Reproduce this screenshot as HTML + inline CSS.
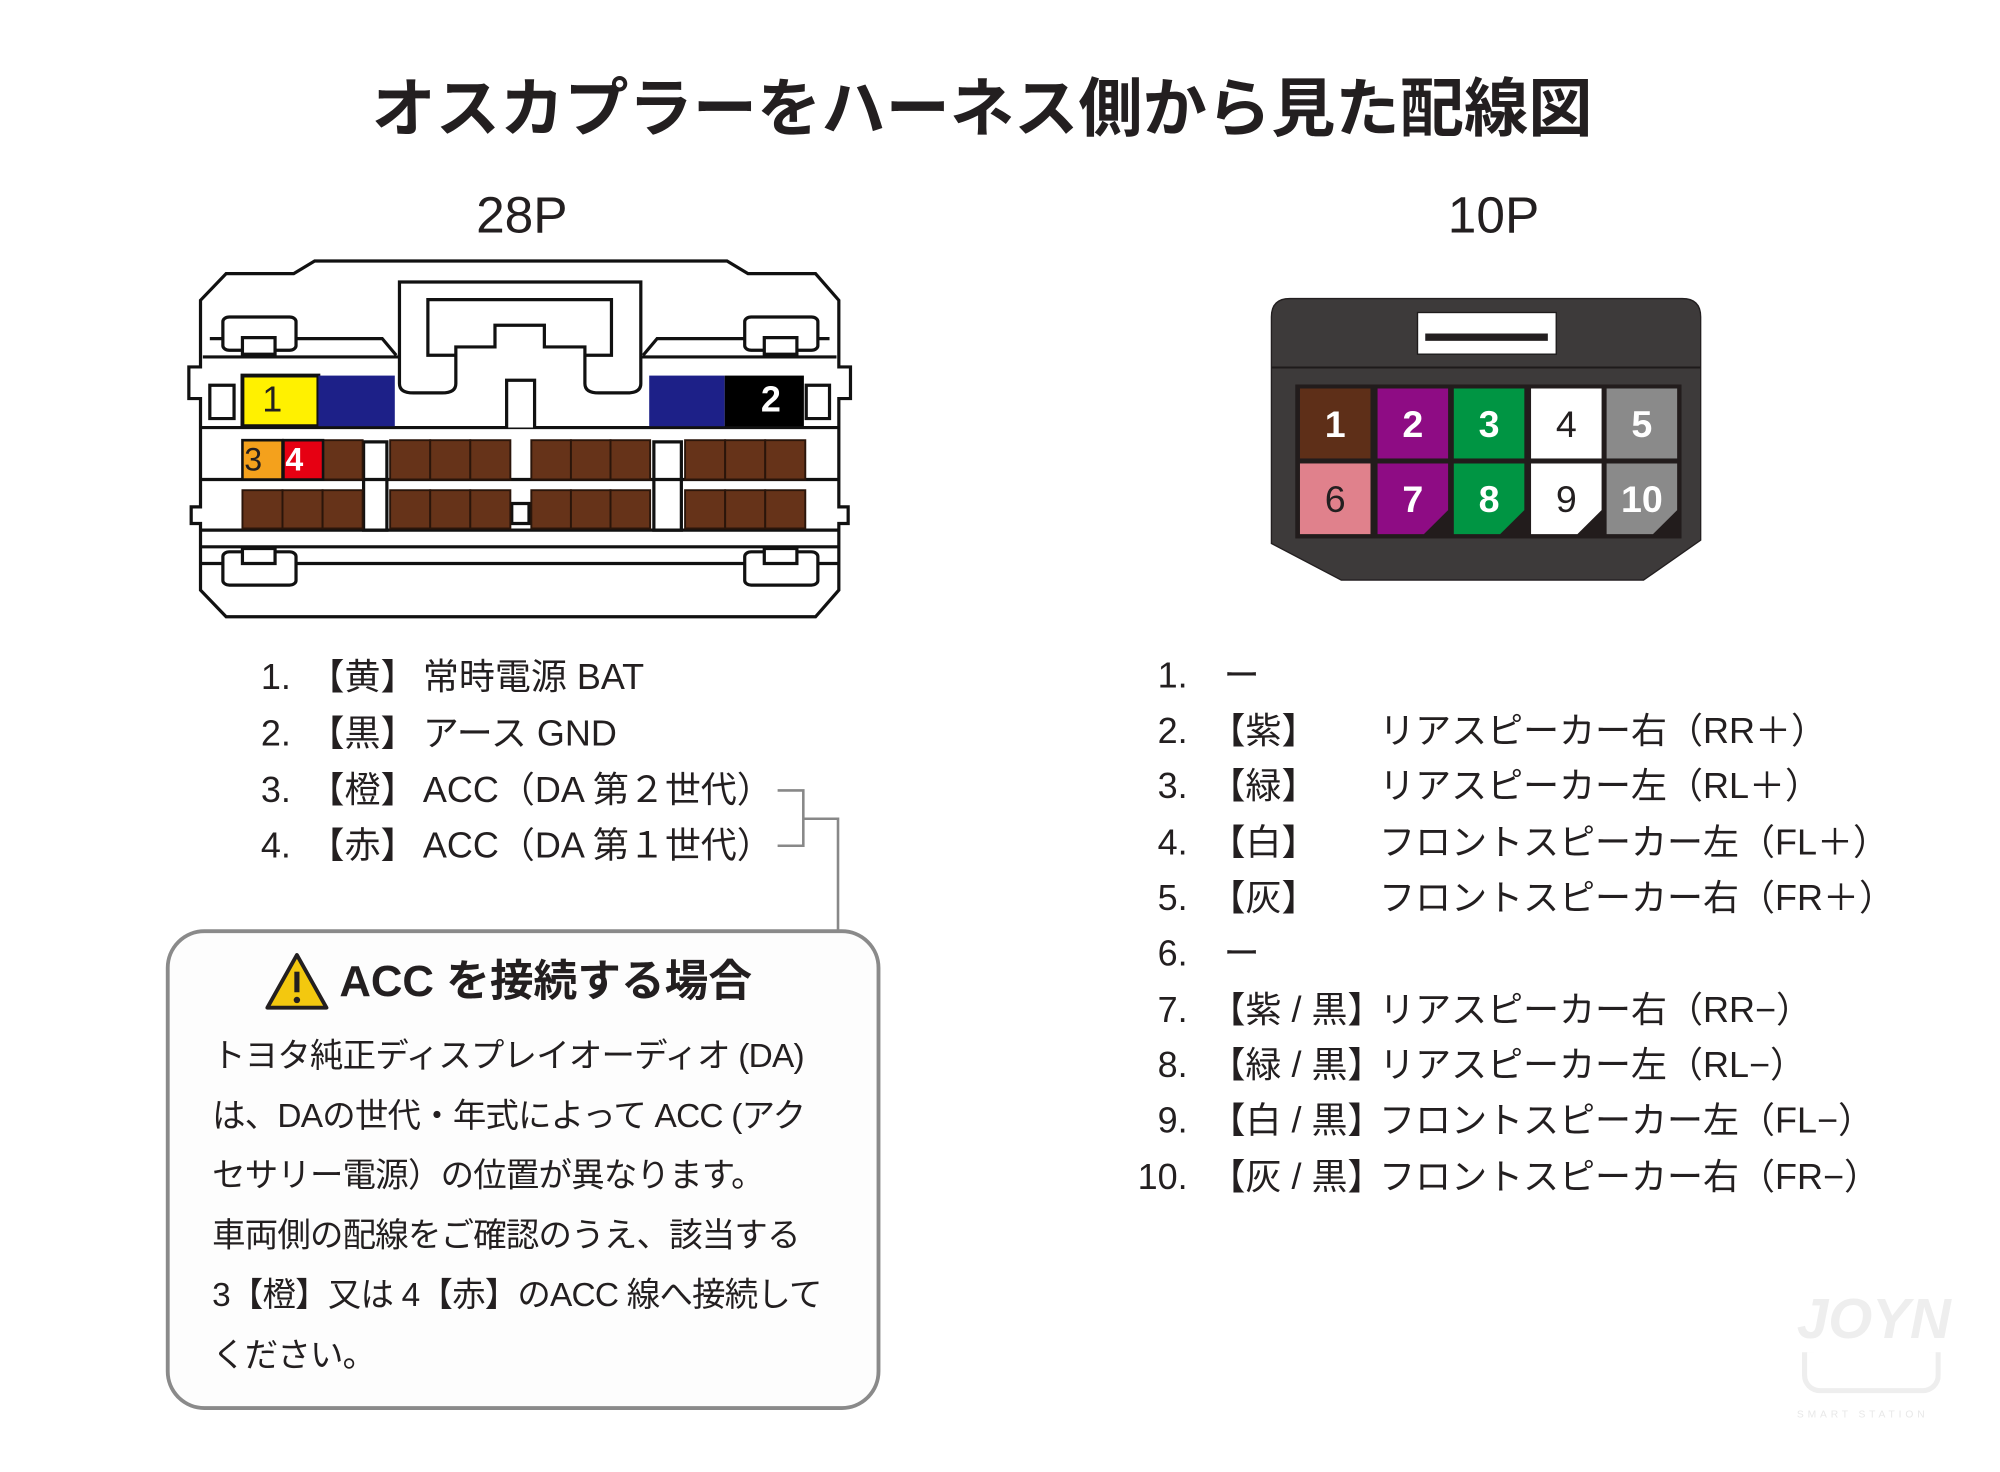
<!DOCTYPE html>
<html><head><meta charset="utf-8"><style>
html,body{margin:0;padding:0;background:#fff;}
body{width:2000px;height:1472px;overflow:hidden;position:relative;}
#w{position:absolute;left:0;top:0;width:1556px;height:1145px;transform:scale(1.2853);transform-origin:0 0;font-family:"Liberation Sans","Noto Sans CJK JP",sans-serif;color:#231f20;}
.t{position:absolute;white-space:nowrap;line-height:1;}
.n{position:absolute;white-space:nowrap;line-height:1;font-size:28px;}
</style></head><body><div id="w">
<div class="t" style="left:0;width:1528px;text-align:center;top:60px;font-size:50px;font-weight:bold;">オスカプラーをハーネス側から見た配線図</div>
<div class="t" style="left:306px;width:200px;text-align:center;top:148px;font-size:40px;">28P</div>
<div class="t" style="left:1062px;width:200px;text-align:center;top:148px;font-size:40px;">10P</div>

<svg style="position:absolute;left:127.1px;top:186.7px;" width="561.9" height="311" viewBox="0 0 1550 1200" preserveAspectRatio="none">
<g stroke="#111" stroke-width="2.5" fill="none">
<path vector-effect="non-scaling-stroke" fill="#fff" d="M80,180 L135,100 L280,100 L325,62 L1210,62 L1255,100 L1400,100 L1450,180 L1450,380 L1475,380 L1475,475 L1450,475 L1450,800 L1470,800 L1470,850 L1450,850 L1450,1050 L1400,1130 L135,1130 L80,1050 L80,850 L60,850 L60,800 L80,800 L80,475 L55,475 L55,380 L80,380 Z"/>
<path vector-effect="non-scaling-stroke" d="M100,295 L470,295 L500,345 M1030,345 L1060,295 L1430,295 M85,350 L507,350 M1025,350 L1445,350"/>
<path vector-effect="non-scaling-stroke" d="M80,562 L1450,562 M80,718 L1450,718 M80,870 L1450,870 M80,920 L1450,920 M80,970 L1450,970"/>
<path vector-effect="non-scaling-stroke" fill="#fff" d="M507,350 L507,125 L1025,125 L1025,430 Q1025,458 995,458 L935,458 Q905,458 905,430 L905,320 L818,320 L818,255 L712,255 L712,320 L628,320 L628,430 Q628,458 598,458 L537,458 Q507,458 507,430 Z"/>
<path vector-effect="non-scaling-stroke" d="M568,320 L568,178 L962,178 L962,345 L905,345 M628,345 L568,345 L568,320"/>
<path vector-effect="non-scaling-stroke" fill="#fff" d="M737,562 L737,420 L797,420 L797,562"/>
<rect vector-effect="non-scaling-stroke" x="128" y="230" width="157" height="100" rx="14" fill="#fff"/>
<rect vector-effect="non-scaling-stroke" x="170" y="292" width="70" height="50" fill="#fff"/>
<rect vector-effect="non-scaling-stroke" x="1248" y="230" width="157" height="100" rx="14" fill="#fff"/>
<rect vector-effect="non-scaling-stroke" x="1290" y="292" width="70" height="50" fill="#fff"/>
<rect vector-effect="non-scaling-stroke" x="128" y="935" width="157" height="100" rx="14" fill="#fff"/>
<rect vector-effect="non-scaling-stroke" x="170" y="925" width="70" height="45" fill="#fff"/>
<rect vector-effect="non-scaling-stroke" x="1248" y="935" width="157" height="100" rx="14" fill="#fff"/>
<rect vector-effect="non-scaling-stroke" x="1290" y="925" width="70" height="45" fill="#fff"/>
<rect vector-effect="non-scaling-stroke" x="100" y="435" width="52" height="100"/>
<rect vector-effect="non-scaling-stroke" x="1380" y="435" width="50" height="100"/>
<rect vector-effect="non-scaling-stroke" x="430" y="605" width="50" height="265"/>
<rect vector-effect="non-scaling-stroke" x="1053" y="605" width="59" height="265"/>
<rect vector-effect="non-scaling-stroke" x="748" y="790" width="37" height="60"/>
</g>
<rect x="170" y="406" width="163" height="152" fill="#fff100" stroke="#111" stroke-width="3" vector-effect="non-scaling-stroke"/>
<rect x="333" y="406" width="164" height="152" fill="#1d2088"/>
<rect x="1043" y="406" width="162" height="152" fill="#1d2088"/>
<rect x="1205" y="406" width="170" height="152" fill="#000"/>
<g fill="#663319" stroke="#2a150a" stroke-width="1.5">
<rect vector-effect="non-scaling-stroke" x="343" y="600" width="85" height="118"/>
<rect vector-effect="non-scaling-stroke" x="487" y="600" width="86" height="118"/><rect vector-effect="non-scaling-stroke" x="573" y="600" width="86" height="118"/><rect vector-effect="non-scaling-stroke" x="659" y="600" width="86" height="118"/>
<rect vector-effect="non-scaling-stroke" x="790" y="600" width="85" height="118"/><rect vector-effect="non-scaling-stroke" x="875" y="600" width="85" height="118"/><rect vector-effect="non-scaling-stroke" x="960" y="600" width="85" height="118"/>
<rect vector-effect="non-scaling-stroke" x="1120" y="600" width="86" height="118"/><rect vector-effect="non-scaling-stroke" x="1206" y="600" width="86" height="118"/><rect vector-effect="non-scaling-stroke" x="1292" y="600" width="86" height="118"/>
<rect vector-effect="non-scaling-stroke" x="170" y="750" width="86" height="115"/><rect vector-effect="non-scaling-stroke" x="256" y="750" width="86" height="115"/><rect vector-effect="non-scaling-stroke" x="342" y="750" width="86" height="115"/>
<rect vector-effect="non-scaling-stroke" x="487" y="750" width="86" height="115"/><rect vector-effect="non-scaling-stroke" x="573" y="750" width="86" height="115"/><rect vector-effect="non-scaling-stroke" x="659" y="750" width="86" height="115"/>
<rect vector-effect="non-scaling-stroke" x="790" y="750" width="85" height="115"/><rect vector-effect="non-scaling-stroke" x="875" y="750" width="85" height="115"/><rect vector-effect="non-scaling-stroke" x="960" y="750" width="85" height="115"/>
<rect vector-effect="non-scaling-stroke" x="1120" y="750" width="86" height="115"/><rect vector-effect="non-scaling-stroke" x="1206" y="750" width="86" height="115"/><rect vector-effect="non-scaling-stroke" x="1292" y="750" width="86" height="115"/>
</g>
<rect x="170" y="600" width="86" height="118" fill="#f4a11c" stroke="#111" stroke-width="2" vector-effect="non-scaling-stroke"/>
<rect x="258" y="600" width="85" height="118" fill="#e60012" stroke="#111" stroke-width="2" vector-effect="non-scaling-stroke"/>
</svg>
<div class="n" style="left:204px;top:297px;">1</div>
<div class="n" style="left:592px;top:297px;color:#fff;font-weight:bold;">2</div>
<div class="n" style="left:190px;top:346px;font-size:25px;">3</div>
<div class="n" style="left:222px;top:346px;font-size:25px;color:#fff;font-weight:bold;">4</div>

<svg style="position:absolute;left:972.8px;top:217.7px;" width="376.3" height="248.9" viewBox="0 0 1440 960" preserveAspectRatio="none">
<path d="M62,110 Q62,55 117,55 L1285,55 Q1340,55 1340,110 L1340,780 L1170,900 L270,900 L62,790 Z" fill="#3d3a3a" stroke="#231f20" stroke-width="4"/>
<line x1="62" y1="262" x2="1340" y2="262" stroke="#1e1b1b" stroke-width="6"/>
<rect x="497" y="97" width="413" height="125" fill="#fff" stroke="#1e1b1b" stroke-width="4"/>
<rect x="520" y="160" width="365" height="22" fill="#231f20"/>
<rect x="133" y="313" width="1150" height="462" fill="#221c1c"/>
<rect x="147" y="325" width="210" height="210" fill="#5e2f18"/>
<rect x="378" y="325" width="210" height="210" fill="#8e0c84"/>
<rect x="605" y="325" width="210" height="210" fill="#009543"/>
<rect x="835" y="325" width="210" height="210" fill="#fff"/>
<rect x="1060" y="325" width="210" height="210" fill="#8a8a8a"/>
<rect x="147" y="550" width="210" height="212" fill="#e0818c"/>
<path d="M378,550 H588 V690 L516,762 H378 Z" fill="#8e0c84"/>
<path d="M605,550 H815 V690 L743,762 H605 Z" fill="#009543"/>
<path d="M835,550 H1045 V690 L973,762 H835 Z" fill="#fff"/>
<path d="M1060,550 H1270 V690 L1198,762 H1060 Z" fill="#8a8a8a"/>
<g font-family="Liberation Sans, sans-serif" font-size="112" text-anchor="middle" font-weight="bold">
<text x="252" y="470" fill="#fff">1</text><text x="483" y="470" fill="#fff">2</text><text x="710" y="470" fill="#fff">3</text><text x="940" y="470" fill="#231f20" font-weight="normal">4</text><text x="1165" y="470" fill="#fff">5</text>
<text x="252" y="695" fill="#231f20" font-weight="normal">6</text><text x="483" y="695" fill="#fff">7</text><text x="710" y="695" fill="#fff">8</text><text x="940" y="695" fill="#231f20" font-weight="normal">9</text><text x="1165" y="695" fill="#fff">10</text>
</g>
</svg>

<div style="font-size:28px;">
<div class="t" style="left:203px;top:513px;">1.</div><div class="t" style="left:240px;top:513px;">【黄】</div><div class="t" style="left:329px;top:513px;">常時電源 BAT</div>
<div class="t" style="left:203px;top:557px;">2.</div><div class="t" style="left:240px;top:557px;">【黒】</div><div class="t" style="left:329px;top:557px;">アース GND</div>
<div class="t" style="left:203px;top:601px;">3.</div><div class="t" style="left:240px;top:601px;">【橙】</div><div class="t" style="left:329px;top:601px;">ACC（DA 第２世代）</div>
<div class="t" style="left:203px;top:644px;">4.</div><div class="t" style="left:240px;top:644px;">【赤】</div><div class="t" style="left:329px;top:644px;">ACC（DA 第１世代）</div>
</div>
<svg style="position:absolute;left:600px;top:605px;" width="60" height="125"><path d="M5,10 H25 V53 H5 M25,32 H52 V120" fill="none" stroke="#888" stroke-width="2"/></svg>

<div style="position:absolute;left:129px;top:723px;width:550px;height:368px;border:3px solid #8a8a8a;border-radius:30px;background:#fdfdfd;"></div>
<svg style="position:absolute;left:205px;top:740px;" width="52" height="48" viewBox="0 0 52 48"><path d="M26,3 L49,44 L3,44 Z" fill="#f3c80f" stroke="#231f20" stroke-width="3" stroke-linejoin="round"/><rect x="24" y="16" width="4" height="16" fill="#231f20"/><circle cx="26" cy="38" r="2.5" fill="#231f20"/></svg>
<div class="t" style="left:264px;top:747px;font-size:34px;font-weight:bold;">ACC を接続する場合</div>
<div style="font-size:26px;letter-spacing:-0.6px;">
<div class="t" style="left:165px;top:808px;">トヨタ純正ディスプレイオーディオ (DA)</div>
<div class="t" style="left:165px;top:855px;">は、DAの世代・年式によって ACC (アク</div>
<div class="t" style="left:165px;top:901px;">セサリー電源）の位置が異なります。</div>
<div class="t" style="left:165px;top:948px;">車両側の配線をご確認のうえ、該当する</div>
<div class="t" style="left:165px;top:994px;">3【橙】又は 4【赤】のACC 線へ接続して</div>
<div class="t" style="left:165px;top:1041px;">ください。</div>
</div>

<div style="font-size:28px;">
<div class="t" style="left:872px;width:52px;text-align:right;top:512px;">1.</div><div class="t" style="left:952px;top:512px;">ー</div>
<div class="t" style="left:872px;width:52px;text-align:right;top:555px;">2.</div><div class="t" style="left:941px;top:555px;">【紫】</div><div class="t" style="left:1073px;top:555px;">リアスピーカー右（RR＋）</div>
<div class="t" style="left:872px;width:52px;text-align:right;top:598px;">3.</div><div class="t" style="left:941px;top:598px;">【緑】</div><div class="t" style="left:1073px;top:598px;">リアスピーカー左（RL＋）</div>
<div class="t" style="left:872px;width:52px;text-align:right;top:642px;">4.</div><div class="t" style="left:941px;top:642px;">【白】</div><div class="t" style="left:1073px;top:642px;">フロントスピーカー左（FL＋）</div>
<div class="t" style="left:872px;width:52px;text-align:right;top:685px;">5.</div><div class="t" style="left:941px;top:685px;">【灰】</div><div class="t" style="left:1073px;top:685px;">フロントスピーカー右（FR＋）</div>
<div class="t" style="left:872px;width:52px;text-align:right;top:728px;">6.</div><div class="t" style="left:952px;top:728px;">ー</div>
<div class="t" style="left:872px;width:52px;text-align:right;top:772px;">7.</div><div class="t" style="left:941px;top:772px;">【紫 / 黒】</div><div class="t" style="left:1073px;top:772px;">リアスピーカー右（RR−）</div>
<div class="t" style="left:872px;width:52px;text-align:right;top:815px;">8.</div><div class="t" style="left:941px;top:815px;">【緑 / 黒】</div><div class="t" style="left:1073px;top:815px;">リアスピーカー左（RL−）</div>
<div class="t" style="left:872px;width:52px;text-align:right;top:858px;">9.</div><div class="t" style="left:941px;top:858px;">【白 / 黒】</div><div class="t" style="left:1073px;top:858px;">フロントスピーカー左（FL−）</div>
<div class="t" style="left:862px;width:62px;text-align:right;top:902px;">10.</div><div class="t" style="left:941px;top:902px;">【灰 / 黒】</div><div class="t" style="left:1073px;top:902px;">フロントスピーカー右（FR−）</div>
</div>
<div class="t" style="left:1398px;top:1005px;font-size:44px;font-weight:bold;font-style:italic;color:#eeeeee;">JOYN</div>
<div style="position:absolute;left:1402px;top:1052px;width:100px;height:28px;border:4px solid #eeeeee;border-top:none;border-radius:0 0 14px 14px;"></div>
<div class="t" style="left:1398px;top:1097px;font-size:8px;letter-spacing:3px;color:#e8e8e8;">SMART STATION</div>
</div></body></html>
